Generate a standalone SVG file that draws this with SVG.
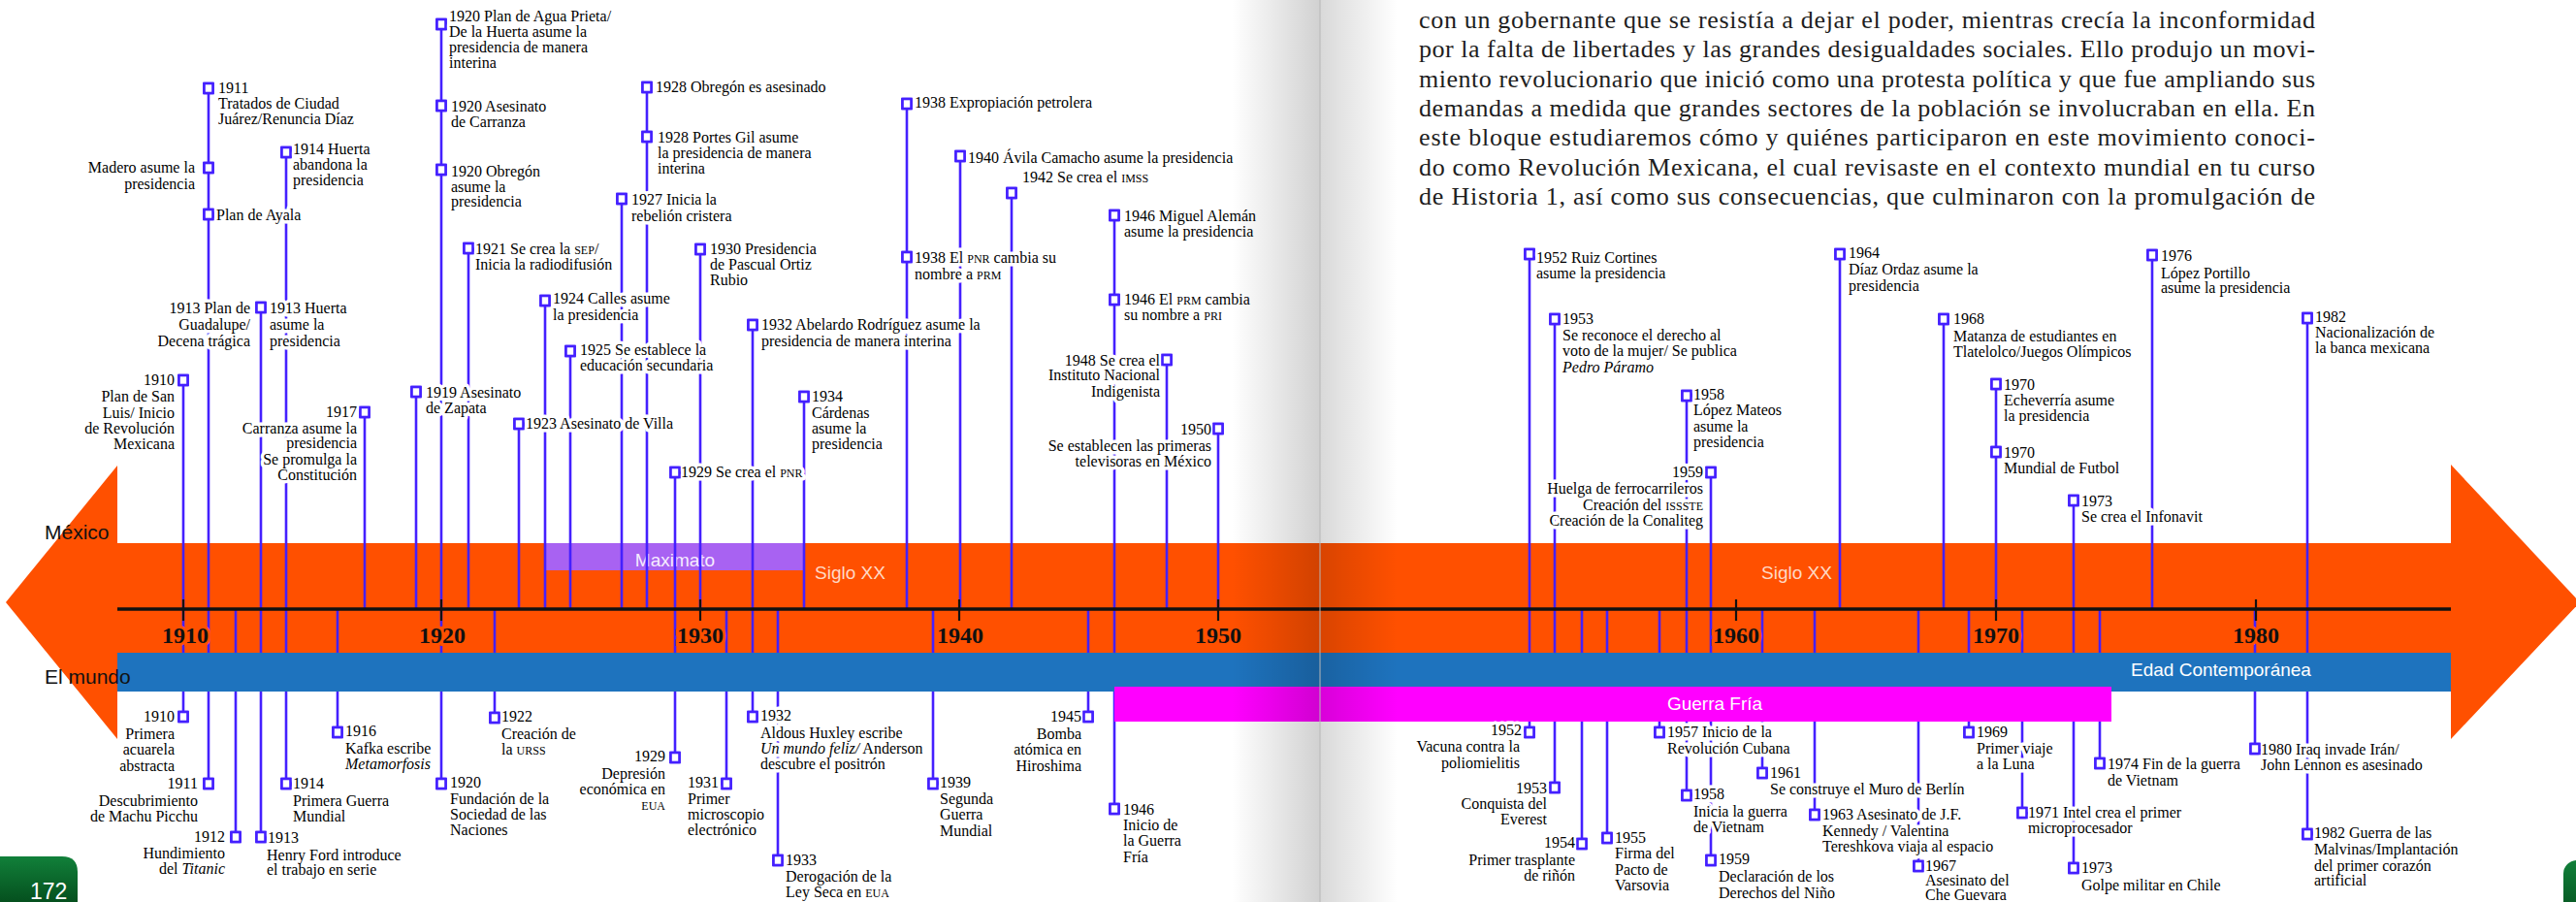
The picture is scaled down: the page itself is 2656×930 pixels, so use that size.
<svg xmlns="http://www.w3.org/2000/svg" width="2656" height="930" viewBox="0 0 2656 930">
<defs>
<style>
.lbl{font-family:"Liberation Serif","DejaVu Serif",serif;font-size:16px}
.it{font-style:italic}
.sc{font-size:12px}
.mk{fill:#fff;stroke:#4420ff;stroke-width:2.6px}
.cn{stroke:#4420ff;stroke-width:2.6px;fill:none}
.halo{fill:#fff;stroke:#fff;stroke-width:7px;stroke-linejoin:round}
.yr{font-family:"Liberation Serif","DejaVu Serif",serif;font-weight:bold;font-size:24px;text-anchor:middle;fill:#111;stroke:#ff5000;stroke-width:6px;paint-order:stroke}
.band{font-family:"Liberation Sans","DejaVu Sans",sans-serif;font-size:19px}
.side{font-family:"Liberation Sans","DejaVu Sans",sans-serif;font-size:21px;fill:#111}
.body{font-family:"Liberation Serif","DejaVu Serif",serif;font-size:26px;fill:#1e1e1e}
.tick{stroke:#111;stroke-width:2.2px}
</style>
<linearGradient id="gutL" x1="0" y1="0" x2="1" y2="0"><stop offset="0" stop-color="#000" stop-opacity="0"/><stop offset="1" stop-color="#000" stop-opacity="0.18"/></linearGradient>
<linearGradient id="gutR" x1="0" y1="0" x2="1" y2="0"><stop offset="0" stop-color="#000" stop-opacity="0.15"/><stop offset="1" stop-color="#000" stop-opacity="0"/></linearGradient>
<linearGradient id="grn" x1="0" y1="0" x2="0" y2="1"><stop offset="0" stop-color="#11803a"/><stop offset="1" stop-color="#05501e"/></linearGradient>
</defs>
<rect width="2656" height="930" fill="#fff"/>

<g id="body-text" class="body">
<text x="1463" y="29" textLength="924" lengthAdjust="spacing">con un gobernante que se resistía a dejar el poder, mientras crecía la inconformidad</text>
<text x="1463" y="59" textLength="924" lengthAdjust="spacing">por la falta de libertades y las grandes desigualdades sociales. Ello produjo un movi-</text>
<text x="1463" y="90" textLength="924" lengthAdjust="spacing">miento revolucionario que inició como una protesta política y que fue ampliando sus</text>
<text x="1463" y="120" textLength="924" lengthAdjust="spacing">demandas a medida que grandes sectores de la población se involucraban en ella. En</text>
<text x="1463" y="150" textLength="924" lengthAdjust="spacing">este bloque estudiaremos cómo y quiénes participaron en este movimiento conoci-</text>
<text x="1463" y="181" textLength="924" lengthAdjust="spacing">do como Revolución Mexicana, el cual revisaste en el contexto mundial en tu curso</text>
<text x="1463" y="211" textLength="924" lengthAdjust="spacing">de Historia 1, así como sus consecuencias, que culminaron con la promulgación de</text>
</g>

<g id="mexico-band">
<polygon points="121,480 6,621 121,762" fill="#ff5000"/>
<polygon points="2527,479 2660,621 2527,762" fill="#ff5000"/>
<rect x="121" y="560" width="2406" height="153" fill="#ff5000"/>
<rect x="562" y="560" width="268" height="28" fill="#a862f2"/>
<text class="band" x="696" y="584" text-anchor="middle" fill="#f6ecff">Maximato</text>
<text class="band" x="840" y="597" fill="#ffd9c4">Siglo XX</text>
<text class="band" x="1816" y="597" fill="#ffd9c4">Siglo XX</text>
<text class="side" x="46" y="556">México</text>
</g>

<g id="connectors">
<line class="cn" x1="189" y1="392" x2="189" y2="628"/>
<line class="cn" x1="215" y1="91" x2="215" y2="628"/>
<line class="cn" x1="269" y1="317" x2="269" y2="628"/>
<line class="cn" x1="295" y1="157" x2="295" y2="628"/>
<line class="cn" x1="376" y1="425" x2="376" y2="628"/>
<line class="cn" x1="429" y1="404" x2="429" y2="628"/>
<line class="cn" x1="455" y1="25" x2="455" y2="628"/>
<line class="cn" x1="483" y1="256" x2="483" y2="628"/>
<line class="cn" x1="535" y1="437" x2="535" y2="628"/>
<line class="cn" x1="562" y1="310" x2="562" y2="628"/>
<line class="cn" x1="588" y1="362" x2="588" y2="628"/>
<line class="cn" x1="641" y1="205" x2="641" y2="628"/>
<line class="cn" x1="667" y1="90" x2="667" y2="628"/>
<line class="cn" x1="696" y1="487" x2="696" y2="628"/>
<line class="cn" x1="722" y1="257" x2="722" y2="628"/>
<line class="cn" x1="776" y1="335" x2="776" y2="628"/>
<line class="cn" x1="829" y1="409" x2="829" y2="628"/>
<line class="cn" x1="935" y1="107" x2="935" y2="628"/>
<line class="cn" x1="990" y1="161" x2="990" y2="628"/>
<line class="cn" x1="1043" y1="199" x2="1043" y2="628"/>
<line class="cn" x1="1149" y1="222" x2="1149" y2="628"/>
<line class="cn" x1="1203" y1="371" x2="1203" y2="628"/>
<line class="cn" x1="1256" y1="442" x2="1256" y2="628"/>
<line class="cn" x1="189" y1="628" x2="189" y2="739"/>
<line class="cn" x1="215" y1="628" x2="215" y2="808"/>
<line class="cn" x1="243" y1="628" x2="243" y2="863"/>
<line class="cn" x1="269" y1="628" x2="269" y2="863"/>
<line class="cn" x1="295" y1="628" x2="295" y2="808"/>
<line class="cn" x1="348" y1="628" x2="348" y2="755"/>
<line class="cn" x1="455" y1="628" x2="455" y2="808"/>
<line class="cn" x1="510" y1="628" x2="510" y2="740"/>
<line class="cn" x1="696" y1="628" x2="696" y2="781"/>
<line class="cn" x1="749" y1="628" x2="749" y2="808"/>
<line class="cn" x1="776" y1="628" x2="776" y2="739"/>
<line class="cn" x1="802" y1="628" x2="802" y2="887"/>
<line class="cn" x1="962" y1="628" x2="962" y2="808"/>
<line class="cn" x1="1122" y1="628" x2="1122" y2="739"/>
<line class="cn" x1="1149" y1="628" x2="1149" y2="834"/>
<line class="cn" x1="1577" y1="262" x2="1577" y2="628"/>
<line class="cn" x1="1603" y1="329" x2="1603" y2="628"/>
<line class="cn" x1="1739" y1="408" x2="1739" y2="628"/>
<line class="cn" x1="1764" y1="487" x2="1764" y2="628"/>
<line class="cn" x1="1897" y1="262" x2="1897" y2="628"/>
<line class="cn" x1="2004" y1="329" x2="2004" y2="628"/>
<line class="cn" x1="2058" y1="396" x2="2058" y2="628"/>
<line class="cn" x1="2138" y1="516" x2="2138" y2="628"/>
<line class="cn" x1="2219" y1="263" x2="2219" y2="628"/>
<line class="cn" x1="2379" y1="328" x2="2379" y2="628"/>
<line class="cn" x1="1577" y1="628" x2="1577" y2="755"/>
<line class="cn" x1="1603" y1="628" x2="1603" y2="812"/>
<line class="cn" x1="1631" y1="628" x2="1631" y2="870"/>
<line class="cn" x1="1657" y1="628" x2="1657" y2="864"/>
<line class="cn" x1="1711" y1="628" x2="1711" y2="755"/>
<line class="cn" x1="1739" y1="628" x2="1739" y2="820"/>
<line class="cn" x1="1764" y1="628" x2="1764" y2="887"/>
<line class="cn" x1="1817" y1="628" x2="1817" y2="797"/>
<line class="cn" x1="1871" y1="628" x2="1871" y2="840"/>
<line class="cn" x1="1978" y1="628" x2="1978" y2="893"/>
<line class="cn" x1="2030" y1="628" x2="2030" y2="755"/>
<line class="cn" x1="2085" y1="628" x2="2085" y2="838"/>
<line class="cn" x1="2138" y1="628" x2="2138" y2="895"/>
<line class="cn" x1="2165" y1="628" x2="2165" y2="787"/>
<line class="cn" x1="2325" y1="628" x2="2325" y2="772"/>
<line class="cn" x1="2379" y1="628" x2="2379" y2="860"/>
</g>

<g id="axis">
<line x1="121" y1="628" x2="2527" y2="628" stroke="#111" stroke-width="3.5"/>
<line class="tick" x1="189" y1="618" x2="189" y2="640"/>
<line class="tick" x1="455" y1="618" x2="455" y2="640"/>
<line class="tick" x1="722" y1="618" x2="722" y2="640"/>
<line class="tick" x1="989" y1="618" x2="989" y2="640"/>
<line class="tick" x1="1256" y1="618" x2="1256" y2="640"/>
<line class="tick" x1="1790" y1="618" x2="1790" y2="640"/>
<line class="tick" x1="2058" y1="618" x2="2058" y2="640"/>
<line class="tick" x1="2326" y1="618" x2="2326" y2="640"/>
<text class="yr" x="191" y="663">1910</text>
<text class="yr" x="456" y="663">1920</text>
<text class="yr" x="722" y="663">1930</text>
<text class="yr" x="990" y="663">1940</text>
<text class="yr" x="1256" y="663">1950</text>
<text class="yr" x="1790" y="663">1960</text>
<text class="yr" x="2058" y="663">1970</text>
<text class="yr" x="2326" y="663">1980</text>
</g>

<g id="world-band">
<rect x="121" y="673" width="2406" height="40" fill="#1e73be"/>
<rect x="1149" y="708" width="1028" height="36" fill="#ff00ff"/>
<text class="band" x="2290" y="697" text-anchor="middle" font-size="20" fill="#fff">Edad Contemporánea</text>
<text class="band" x="1768" y="732" text-anchor="middle" fill="#fff">Guerra Fría</text>
<text class="side" x="46" y="705">El mundo</text>
</g>

<g id="label-halos"><use href="#nodes" class="halo"/></g>

<g id="nodes">
<g id="mx-1910"><rect class="mk" x="184.5" y="387" width="9" height="10"/><text class="lbl" text-anchor="end"><tspan x="180" y="397">1910</tspan><tspan x="180" y="414">Plan de San</tspan><tspan x="180" y="431">Luis/ Inicio</tspan><tspan x="180" y="447">de Revolución</tspan><tspan x="180" y="463">Mexicana</tspan></text></g>
<g id="mx-1911-tratados"><rect class="mk" x="210.5" y="86" width="9" height="10"/><text class="lbl"><tspan x="225" y="96">1911</tspan><tspan x="225" y="112">Tratados de Ciudad</tspan><tspan x="225" y="128">Juárez/Renuncia Díaz</tspan></text></g>
<g id="mx-1911-madero"><rect class="mk" x="210.5" y="168" width="9" height="10"/><text class="lbl" text-anchor="end"><tspan x="201" y="178">Madero asume la</tspan><tspan x="201" y="195">presidencia</tspan></text></g>
<g id="mx-1911-ayala"><rect class="mk" x="210.5" y="216" width="9" height="10"/><text class="lbl"><tspan x="223" y="227">Plan de Ayala</tspan></text></g>
<g id="mx-1913"><rect class="mk" x="264.5" y="312" width="9" height="10"/><text class="lbl" text-anchor="end"><tspan x="258" y="323">1913 Plan de</tspan><tspan x="258" y="340">Guadalupe/</tspan><tspan x="258" y="357">Decena trágica</tspan></text><text class="lbl"><tspan x="278" y="323">1913 Huerta</tspan><tspan x="278" y="340">asume la</tspan><tspan x="278" y="357">presidencia</tspan></text></g>
<g id="mx-1914"><rect class="mk" x="290.5" y="152" width="9" height="10"/><text class="lbl"><tspan x="302" y="159">1914 Huerta</tspan><tspan x="302" y="175">abandona la</tspan><tspan x="302" y="191">presidencia</tspan></text></g>
<g id="mx-1917"><rect class="mk" x="371.5" y="420" width="9" height="10"/><text class="lbl" text-anchor="end"><tspan x="368" y="430">1917</tspan><tspan x="368" y="447">Carranza asume la</tspan><tspan x="368" y="462">presidencia</tspan><tspan x="368" y="479">Se promulga la</tspan><tspan x="368" y="495">Constitución</tspan></text></g>
<g id="mx-1919"><rect class="mk" x="424.5" y="399" width="9" height="10"/><text class="lbl"><tspan x="439" y="410">1919 Asesinato</tspan><tspan x="439" y="426">de Zapata</tspan></text></g>
<g id="mx-1920-aguaprieta"><rect class="mk" x="450.5" y="20" width="9" height="10"/><text class="lbl"><tspan x="463" y="22">1920 Plan de Agua Prieta/</tspan><tspan x="463" y="38">De la Huerta asume la</tspan><tspan x="463" y="54">presidencia de manera</tspan><tspan x="463" y="70">interina</tspan></text></g>
<g id="mx-1920-carranza"><rect class="mk" x="450.5" y="104" width="9" height="10"/><text class="lbl"><tspan x="465" y="115">1920 Asesinato</tspan><tspan x="465" y="131">de Carranza</tspan></text></g>
<g id="mx-1920-obregon"><rect class="mk" x="450.5" y="170" width="9" height="10"/><text class="lbl"><tspan x="465" y="182">1920 Obregón</tspan><tspan x="465" y="198">asume la</tspan><tspan x="465" y="213">presidencia</tspan></text></g>
<g id="mx-1921"><rect class="mk" x="478.5" y="251" width="9" height="10"/><text class="lbl"><tspan x="490" y="262">1921 Se crea la <tspan class="sc">SEP</tspan>/</tspan><tspan x="490" y="278">Inicia la radiodifusión</tspan></text></g>
<g id="mx-1923"><rect class="mk" x="530.5" y="432" width="9" height="10"/><text class="lbl"><tspan x="542" y="442">1923 Asesinato de Villa</tspan></text></g>
<g id="mx-1924"><rect class="mk" x="557.5" y="305" width="9" height="10"/><text class="lbl"><tspan x="570" y="313">1924 Calles asume</tspan><tspan x="570" y="330">la presidencia</tspan></text></g>
<g id="mx-1925"><rect class="mk" x="583.5" y="357" width="9" height="10"/><text class="lbl"><tspan x="598" y="366">1925 Se establece la</tspan><tspan x="598" y="382">educación secundaria</tspan></text></g>
<g id="mx-1927"><rect class="mk" x="636.5" y="200" width="9" height="10"/><text class="lbl"><tspan x="651" y="211">1927 Inicia la</tspan><tspan x="651" y="228">rebelión cristera</tspan></text></g>
<g id="mx-1928-obregon"><rect class="mk" x="662.5" y="85" width="9" height="10"/><text class="lbl"><tspan x="676" y="95">1928 Obregón es asesinado</tspan></text></g>
<g id="mx-1928-portesgil"><rect class="mk" x="662.5" y="136" width="9" height="10"/><text class="lbl"><tspan x="678" y="147">1928 Portes Gil asume</tspan><tspan x="678" y="163">la presidencia de manera</tspan><tspan x="678" y="179">interina</tspan></text></g>
<g id="mx-1929"><rect class="mk" x="691.5" y="482" width="9" height="10"/><text class="lbl"><tspan x="702" y="492">1929 Se crea el <tspan class="sc">PNR</tspan></tspan></text></g>
<g id="mx-1930"><rect class="mk" x="717.5" y="252" width="9" height="10"/><text class="lbl"><tspan x="732" y="262">1930 Presidencia</tspan><tspan x="732" y="278">de Pascual Ortiz</tspan><tspan x="732" y="294">Rubio</tspan></text></g>
<g id="mx-1932"><rect class="mk" x="771.5" y="330" width="9" height="10"/><text class="lbl"><tspan x="785" y="340">1932 Abelardo Rodríguez asume la</tspan><tspan x="785" y="357">presidencia de manera interina</tspan></text></g>
<g id="mx-1934"><rect class="mk" x="824.5" y="404" width="9" height="10"/><text class="lbl"><tspan x="837" y="414">1934</tspan><tspan x="837" y="431">Cárdenas</tspan><tspan x="837" y="447">asume la</tspan><tspan x="837" y="463">presidencia</tspan></text></g>
<g id="mx-1938-expropiacion"><rect class="mk" x="930.5" y="102" width="9" height="10"/><text class="lbl"><tspan x="943" y="111">1938 Expropiación petrolera</tspan></text></g>
<g id="mx-1938-prm"><rect class="mk" x="930.5" y="260" width="9" height="10"/><text class="lbl"><tspan x="943" y="271">1938 El <tspan class="sc">PNR</tspan> cambia su</tspan><tspan x="943" y="288">nombre a <tspan class="sc">PRM</tspan></tspan></text></g>
<g id="mx-1940"><rect class="mk" x="985.5" y="156" width="9" height="10"/><text class="lbl"><tspan x="998" y="168">1940 Ávila Camacho asume la presidencia</tspan></text></g>
<g id="mx-1942"><rect class="mk" x="1038.5" y="194" width="9" height="10"/><text class="lbl"><tspan x="1054" y="188">1942 Se crea el <tspan class="sc">IMSS</tspan></tspan></text></g>
<g id="mx-1946-aleman"><rect class="mk" x="1144.5" y="217" width="9" height="10"/><text class="lbl"><tspan x="1159" y="228">1946 Miguel Alemán</tspan><tspan x="1159" y="244">asume la presidencia</tspan></text></g>
<g id="mx-1946-pri"><rect class="mk" x="1144.5" y="304" width="9" height="10"/><text class="lbl"><tspan x="1159" y="314">1946 El <tspan class="sc">PRM</tspan> cambia</tspan><tspan x="1159" y="330">su nombre a <tspan class="sc">PRI</tspan></tspan></text></g>
<g id="mx-1948"><rect class="mk" x="1198.5" y="366" width="9" height="10"/><text class="lbl" text-anchor="end"><tspan x="1196" y="377">1948 Se crea el</tspan><tspan x="1196" y="392">Instituto Nacional</tspan><tspan x="1196" y="409">Indigenista</tspan></text></g>
<g id="mx-1950"><rect class="mk" x="1251.5" y="437" width="9" height="10"/><text class="lbl" text-anchor="end"><tspan x="1249" y="448">1950</tspan><tspan x="1249" y="465">Se establecen las primeras</tspan><tspan x="1249" y="481">televisoras en México</tspan></text></g>

<g id="mx-1952"><rect class="mk" x="1572.5" y="257" width="9" height="10"/><text class="lbl"><tspan x="1584" y="271">1952 Ruiz Cortines</tspan><tspan x="1584" y="287">asume la presidencia</tspan></text></g>
<g id="mx-1953"><rect class="mk" x="1598.5" y="324" width="9" height="10"/><text class="lbl"><tspan x="1611" y="334">1953</tspan><tspan x="1611" y="351">Se reconoce el derecho al</tspan><tspan x="1611" y="367">voto de la mujer/ Se publica</tspan><tspan x="1611" y="384" class="it">Pedro Páramo</tspan></text></g>
<g id="mx-1958"><rect class="mk" x="1734.5" y="403" width="9" height="10"/><text class="lbl"><tspan x="1746" y="412">1958</tspan><tspan x="1746" y="428">López Mateos</tspan><tspan x="1746" y="445">asume la</tspan><tspan x="1746" y="461">presidencia</tspan></text></g>
<g id="mx-1959"><rect class="mk" x="1759.5" y="482" width="9" height="10"/><text class="lbl" text-anchor="end"><tspan x="1756" y="492">1959</tspan><tspan x="1756" y="509">Huelga de ferrocarrileros</tspan><tspan x="1756" y="526">Creación del <tspan class="sc">ISSSTE</tspan></tspan><tspan x="1756" y="542">Creación de la Conaliteg</tspan></text></g>
<g id="mx-1964"><rect class="mk" x="1892.5" y="257" width="9" height="10"/><text class="lbl"><tspan x="1906" y="266">1964</tspan><tspan x="1906" y="283">Díaz Ordaz asume la</tspan><tspan x="1906" y="300">presidencia</tspan></text></g>
<g id="mx-1968"><rect class="mk" x="1999.5" y="324" width="9" height="10"/><text class="lbl"><tspan x="2014" y="334">1968</tspan><tspan x="2014" y="352">Matanza de estudiantes en</tspan><tspan x="2014" y="368">Tlatelolco/Juegos Olímpicos</tspan></text></g>
<g id="mx-1970-echeverria"><rect class="mk" x="2053.5" y="391" width="9" height="10"/><text class="lbl"><tspan x="2066" y="402">1970</tspan><tspan x="2066" y="418">Echeverría asume</tspan><tspan x="2066" y="434">la presidencia</tspan></text></g>
<g id="mx-1970-mundial"><rect class="mk" x="2053.5" y="461" width="9" height="10"/><text class="lbl"><tspan x="2066" y="472">1970</tspan><tspan x="2066" y="488">Mundial de Futbol</tspan></text></g>
<g id="mx-1973"><rect class="mk" x="2133.5" y="511" width="9" height="10"/><text class="lbl"><tspan x="2146" y="522">1973</tspan><tspan x="2146" y="538">Se crea el Infonavit</tspan></text></g>
<g id="mx-1976"><rect class="mk" x="2214.5" y="258" width="9" height="10"/><text class="lbl"><tspan x="2228" y="269">1976</tspan><tspan x="2228" y="287">López Portillo</tspan><tspan x="2228" y="302">asume la presidencia</tspan></text></g>
<g id="mx-1982"><rect class="mk" x="2374.5" y="323" width="9" height="10"/><text class="lbl"><tspan x="2387" y="332">1982</tspan><tspan x="2387" y="348">Nacionalización de</tspan><tspan x="2387" y="364">la banca mexicana</tspan></text></g>

<g id="w-1910"><rect class="mk" x="184.5" y="734" width="9" height="10"/><text class="lbl" text-anchor="end"><tspan x="180" y="744">1910</tspan><tspan x="180" y="762">Primera</tspan><tspan x="180" y="778">acuarela</tspan><tspan x="180" y="795">abstracta</tspan></text></g>
<g id="w-1911"><rect class="mk" x="210.5" y="803" width="9" height="10"/><text class="lbl" text-anchor="end"><tspan x="204" y="813">1911</tspan><tspan x="204" y="831">Descubrimiento</tspan><tspan x="204" y="847">de Machu Picchu</tspan></text></g>
<g id="w-1912"><rect class="mk" x="238.5" y="858" width="9" height="10"/><text class="lbl" text-anchor="end"><tspan x="232" y="868">1912</tspan><tspan x="232" y="885">Hundimiento</tspan><tspan x="232" y="901">del <tspan class="it">Titanic</tspan></tspan></text></g>
<g id="w-1913"><rect class="mk" x="264.5" y="858" width="9" height="10"/><text class="lbl"><tspan x="276" y="869">1913</tspan><tspan x="275" y="887">Henry Ford introduce</tspan><tspan x="275" y="902">el trabajo en serie</tspan></text></g>
<g id="w-1914"><rect class="mk" x="290.5" y="803" width="9" height="10"/><text class="lbl"><tspan x="302" y="813">1914</tspan><tspan x="302" y="831">Primera Guerra</tspan><tspan x="302" y="847">Mundial</tspan></text></g>
<g id="w-1916"><rect class="mk" x="343.5" y="750" width="9" height="10"/><text class="lbl"><tspan x="356" y="759">1916</tspan><tspan x="356" y="777">Kafka escribe</tspan><tspan x="356" y="793" class="it">Metamorfosis</tspan></text></g>
<g id="w-1920"><rect class="mk" x="450.5" y="803" width="9" height="10"/><text class="lbl"><tspan x="464" y="812">1920</tspan><tspan x="464" y="829">Fundación de la</tspan><tspan x="464" y="845">Sociedad de las</tspan><tspan x="464" y="861">Naciones</tspan></text></g>
<g id="w-1922"><rect class="mk" x="505.5" y="735" width="9" height="10"/><text class="lbl"><tspan x="517" y="744">1922</tspan><tspan x="517" y="762">Creación de</tspan><tspan x="517" y="778">la <tspan class="sc">URSS</tspan></tspan></text></g>
<g id="w-1929"><rect class="mk" x="691.5" y="776" width="9" height="10"/><text class="lbl" text-anchor="end"><tspan x="686" y="785">1929</tspan><tspan x="686" y="803">Depresión</tspan><tspan x="686" y="819">económica en</tspan><tspan x="686" y="835"><tspan class="sc">EUA</tspan></tspan></text></g>
<g id="w-1931"><rect class="mk" x="744.5" y="803" width="9" height="10"/><text class="lbl"><tspan x="709" y="812">1931</tspan><tspan x="709" y="829">Primer</tspan><tspan x="709" y="845">microscopio</tspan><tspan x="709" y="861">electrónico</tspan></text></g>
<g id="w-1932"><rect class="mk" x="771.5" y="734" width="9" height="10"/><text class="lbl"><tspan x="784" y="743">1932</tspan><tspan x="784" y="761">Aldous Huxley escribe</tspan><tspan x="784" y="777"><tspan class="it">Un mundo feliz/</tspan> Anderson</tspan><tspan x="784" y="793">descubre el positrón</tspan></text></g>
<g id="w-1933"><rect class="mk" x="797.5" y="882" width="9" height="10"/><text class="lbl"><tspan x="810" y="892">1933</tspan><tspan x="810" y="909">Derogación de la</tspan><tspan x="810" y="925">Ley Seca en <tspan class="sc">EUA</tspan></tspan></text></g>
<g id="w-1939"><rect class="mk" x="957.5" y="803" width="9" height="10"/><text class="lbl"><tspan x="969" y="812">1939</tspan><tspan x="969" y="829">Segunda</tspan><tspan x="969" y="845">Guerra</tspan><tspan x="969" y="862">Mundial</tspan></text></g>
<g id="w-1945"><rect class="mk" x="1117.5" y="734" width="9" height="10"/><text class="lbl" text-anchor="end"><tspan x="1115" y="744">1945</tspan><tspan x="1115" y="762">Bomba</tspan><tspan x="1115" y="778">atómica en</tspan><tspan x="1115" y="795">Hiroshima</tspan></text></g>
<g id="w-1946"><rect class="mk" x="1144.5" y="829" width="9" height="10"/><text class="lbl"><tspan x="1158" y="840">1946</tspan><tspan x="1158" y="856">Inicio de</tspan><tspan x="1158" y="872">la Guerra</tspan><tspan x="1158" y="889">Fría</tspan></text></g>

<g id="w-1952"><rect class="mk" x="1572.5" y="750" width="9" height="10"/><text class="lbl" text-anchor="end"><tspan x="1569" y="758">1952</tspan><tspan x="1567" y="775">Vacuna contra la</tspan><tspan x="1567" y="792">poliomielitis</tspan></text></g>
<g id="w-1953"><rect class="mk" x="1598.5" y="807" width="9" height="10"/><text class="lbl" text-anchor="end"><tspan x="1595" y="818">1953</tspan><tspan x="1595" y="834">Conquista del</tspan><tspan x="1595" y="850">Everest</tspan></text></g>
<g id="w-1954"><rect class="mk" x="1626.5" y="865" width="9" height="10"/><text class="lbl" text-anchor="end"><tspan x="1624" y="874">1954</tspan><tspan x="1624" y="892">Primer trasplante</tspan><tspan x="1624" y="908">de riñón</tspan></text></g>
<g id="w-1955"><rect class="mk" x="1652.5" y="859" width="9" height="10"/><text class="lbl"><tspan x="1665" y="869">1955</tspan><tspan x="1665" y="885">Firma del</tspan><tspan x="1665" y="902">Pacto de</tspan><tspan x="1665" y="918">Varsovia</tspan></text></g>
<g id="w-1957"><rect class="mk" x="1706.5" y="750" width="9" height="10"/><text class="lbl"><tspan x="1719" y="760">1957 Inicio de la</tspan><tspan x="1719" y="777">Revolución Cubana</tspan></text></g>
<g id="w-1958"><rect class="mk" x="1734.5" y="815" width="9" height="10"/><text class="lbl"><tspan x="1746" y="824">1958</tspan><tspan x="1746" y="842">Inicia la guerra</tspan><tspan x="1746" y="858">de Vietnam</tspan></text></g>
<g id="w-1959"><rect class="mk" x="1759.5" y="882" width="9" height="10"/><text class="lbl"><tspan x="1772" y="891">1959</tspan><tspan x="1772" y="909">Declaración de los</tspan><tspan x="1772" y="926">Derechos del Niño</tspan></text></g>
<g id="w-1961"><rect class="mk" x="1812.5" y="792" width="9" height="10"/><text class="lbl"><tspan x="1825" y="802">1961</tspan><tspan x="1825" y="819">Se construye el Muro de Berlín</tspan></text></g>
<g id="w-1963"><rect class="mk" x="1866.5" y="835" width="9" height="10"/><text class="lbl"><tspan x="1879" y="845">1963 Asesinato de J.F.</tspan><tspan x="1879" y="862">Kennedy / Valentina</tspan><tspan x="1879" y="878">Tereshkova viaja al espacio</tspan></text></g>
<g id="w-1967"><rect class="mk" x="1973.5" y="888" width="9" height="10"/><text class="lbl"><tspan x="1985" y="898">1967</tspan><tspan x="1985" y="913">Asesinato del</tspan><tspan x="1985" y="928">Che Guevara</tspan></text></g>
<g id="w-1969"><rect class="mk" x="2025.5" y="750" width="9" height="10"/><text class="lbl"><tspan x="2038" y="760">1969</tspan><tspan x="2038" y="777">Primer viaje</tspan><tspan x="2038" y="793">a la Luna</tspan></text></g>
<g id="w-1971"><rect class="mk" x="2080.5" y="833" width="9" height="10"/><text class="lbl"><tspan x="2091" y="843">1971 Intel crea el primer</tspan><tspan x="2091" y="859">microprocesador</tspan></text></g>
<g id="w-1973"><rect class="mk" x="2133.5" y="890" width="9" height="10"/><text class="lbl"><tspan x="2146" y="900">1973</tspan><tspan x="2146" y="918">Golpe militar en Chile</tspan></text></g>
<g id="w-1974"><rect class="mk" x="2160.5" y="782" width="9" height="10"/><text class="lbl"><tspan x="2173" y="793">1974 Fin de la guerra</tspan><tspan x="2173" y="810">de Vietnam</tspan></text></g>
<g id="w-1980"><rect class="mk" x="2320.5" y="767" width="9" height="10"/><text class="lbl"><tspan x="2331" y="778">1980 Iraq invade Irán/</tspan><tspan x="2331" y="794">John Lennon es asesinado</tspan></text></g>
<g id="w-1982"><rect class="mk" x="2374.5" y="855" width="9" height="10"/><text class="lbl"><tspan x="2386" y="864">1982 Guerra de las</tspan><tspan x="2386" y="881">Malvinas/Implantación</tspan><tspan x="2386" y="898">del primer corazón</tspan><tspan x="2386" y="913">artificial</tspan></text></g>
</g>

<g id="gutter">
<rect x="1270" y="0" width="91" height="930" fill="url(#gutL)"/>
<rect x="1361" y="0" width="80" height="930" fill="url(#gutR)"/>
<line x1="1361" y1="0" x2="1361" y2="930" stroke="#b8b8b8" stroke-width="1"/>
</g>

<g id="page-tabs">
<path d="M0 883 H64 Q80 883 80 899 V930 H0 Z" fill="url(#grn)"/>
<text x="31" y="927" font-family="Liberation Sans, DejaVu Sans, sans-serif" font-size="23" fill="#fff">172</text>
<rect x="2643" y="887" width="40" height="60" rx="14" fill="url(#grn)"/>
</g>
</svg>
